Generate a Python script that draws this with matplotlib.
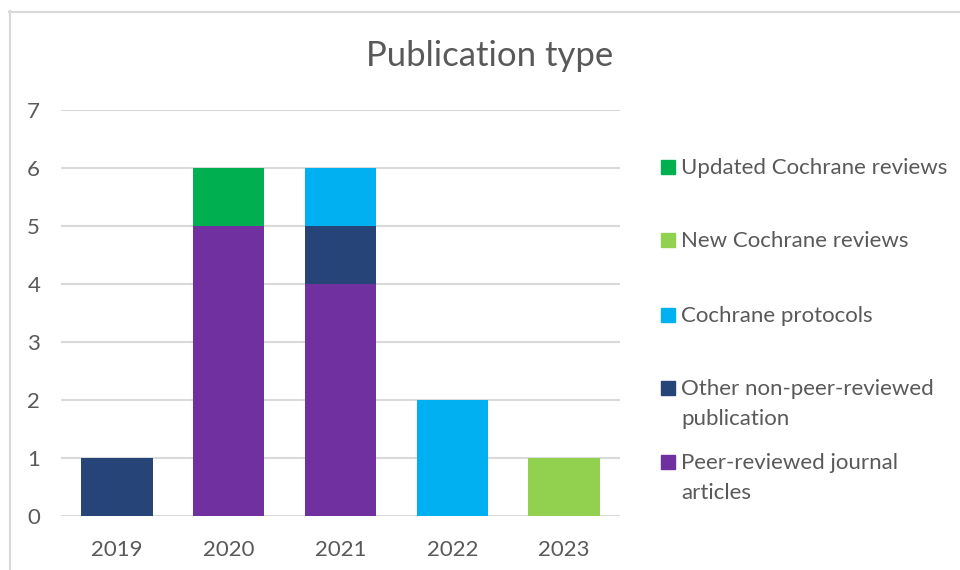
import matplotlib.pyplot as plt
from matplotlib.lines import Line2D
from matplotlib.patches import Rectangle
import numpy as np

# Data
years = ["2019", "2020", "2021", "2022", "2023"]
peer_reviewed = [0, 5, 4, 0, 0]
other_non_peer = [1, 0, 1, 0, 0]
protocols = [0, 0, 1, 2, 0]
new_reviews = [0, 0, 0, 0, 1]
updated_reviews = [0, 1, 0, 0, 0]

series = [
    ("Peer-reviewed journal\narticles", peer_reviewed, "#7030A0"),
    ("Other non-peer-reviewed\npublication", other_non_peer, "#264478"),
    ("Cochrane protocols", protocols, "#00B0F0"),
    ("New Cochrane reviews", new_reviews, "#92D050"),
    ("Updated Cochrane reviews", updated_reviews, "#00B050"),
]

W, H = 960, 570
txt = "#595959"
grid = "#D9D9D9"
plt.rcParams['font.family'] = ['Lato', 'DejaVu Sans']

fig = plt.figure(figsize=(W / 100, H / 100), dpi=100)
ax = fig.add_axes([61 / W, 1 - 516 / H, (620 - 61) / W, (516 - 110) / H])

x = np.arange(len(years))
bottom = np.zeros(len(years))
for label, vals, color in series:
    ax.bar(x, vals, width=0.64, bottom=bottom, color=color, zorder=3)
    bottom += np.array(vals)

ax.set_xlim(-0.5, len(years) - 0.5)
ax.set_ylim(0, 7)
ax.set_yticks(range(0, 8))
ax.set_xticks(x)
ax.set_xticklabels(years)
ax.grid(axis="y", color=grid, linewidth=1.5, zorder=0)
for s in ax.spines.values():
    s.set_visible(False)
ax.tick_params(length=0, labelsize=16, colors=txt)
ax.tick_params(axis="y", pad=15)
ax.tick_params(axis="x", pad=17)

fig.text(490 / W, 1 - 56 / H, "Publication type", ha="center", va="center",
         fontsize=25, color=txt)

# legend, top entry first
ys = [167, 240, 315, 388, 462]
for (label, vals, color), yy in zip(series[::-1], ys):
    fig.patches.append(Rectangle((661 / W, 1 - (yy + 7) / H), 14 / W, 14 / H,
                                 transform=fig.transFigure, color=color))
    fig.text(681 / W, 1 - (yy - 9) / H, label, ha="left", va="top",
             fontsize=16, color=txt, linespacing=1.6)

# chart border
fig.add_artist(Line2D([9.5 / W, 9.5 / W], [1 - 11 / H, 0], color=grid, lw=1.5))
fig.add_artist(Line2D([9 / W, 1], [1 - 11.5 / H, 1 - 11.5 / H], color=grid, lw=1.5))

fig.savefig("out.png", dpi=100)
